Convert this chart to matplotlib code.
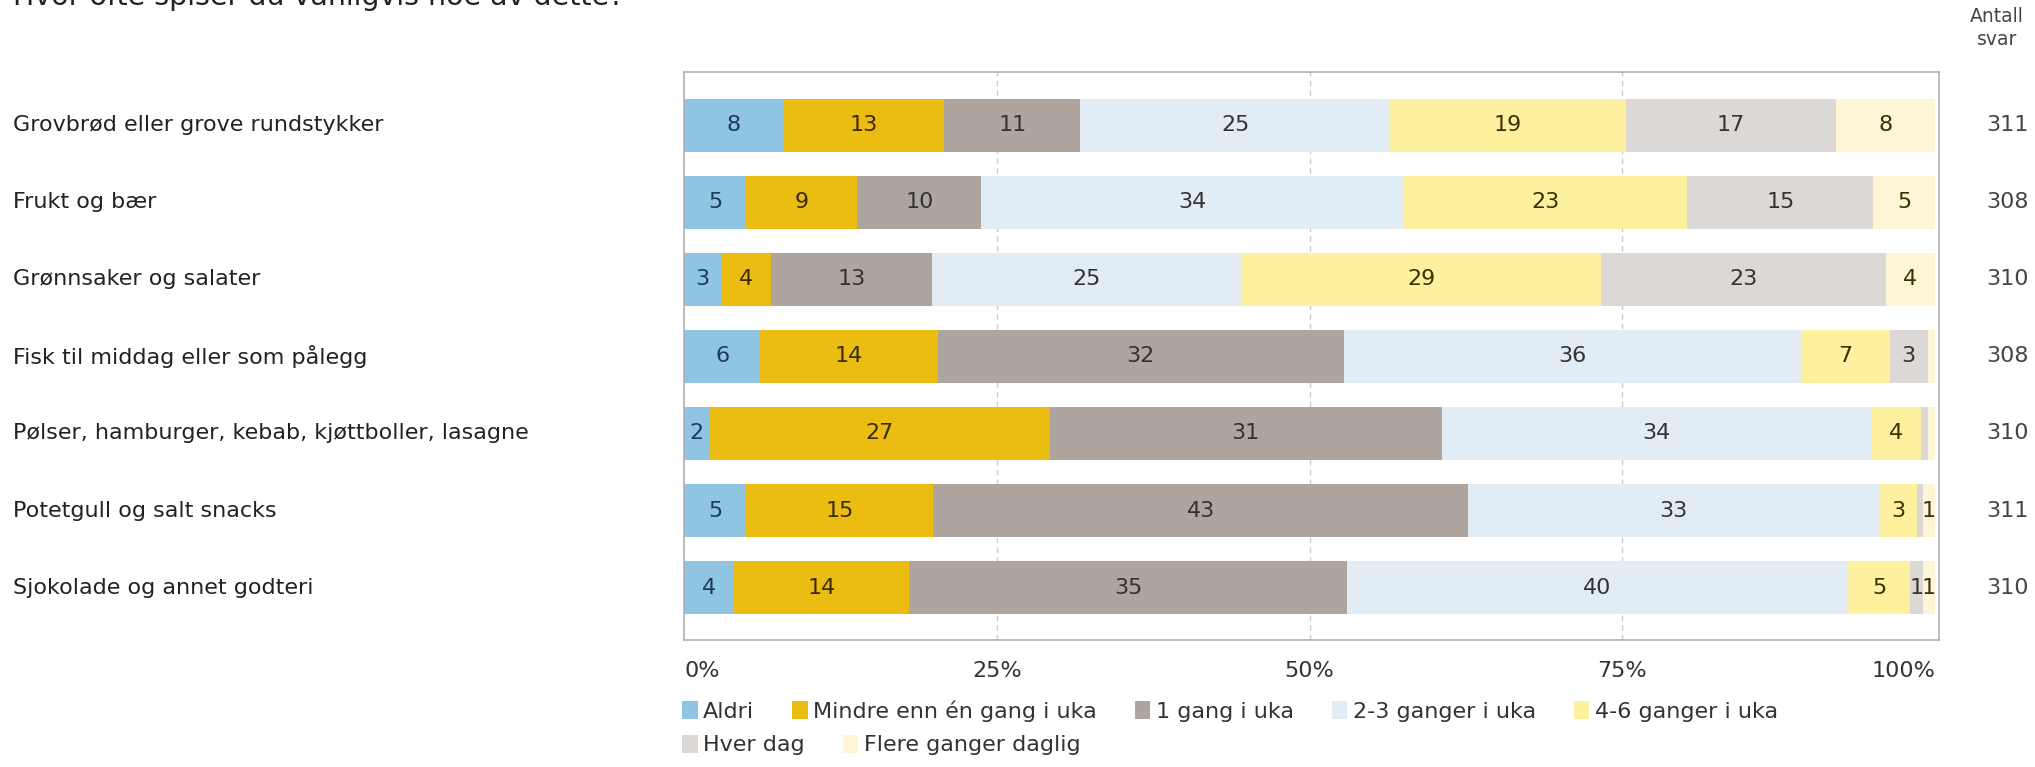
import numpy as np
import matplotlib.pyplot as plt
import matplotlib.transforms as mtransforms
from matplotlib.patches import Patch

plt.rcParams['font.family'] = ['DejaVu Sans']

title = "Hvor ofte spiser du vanligvis noe av dette?"
categories = ["Grovbrød eller grove rundstykker", "Frukt og bær", "Grønnsaker og salater",
              "Fisk til middag eller som pålegg", "Pølser, hamburger, kebab, kjøttboller, lasagne",
              "Potetgull og salt snacks", "Sjokolade og annet godteri"]
series_names = ["Aldri", "Mindre enn én gang i uka", "1 gang i uka", "2-3 ganger i uka",
                "4-6 ganger i uka", "Hver dag", "Flere ganger daglig"]

# percent per category (small slivers are unlabeled in the original)
aldri = [8, 5, 3, 6, 2, 5, 4]
mindre = [13, 9, 4, 14, 27, 15, 14]
en_gang = [11, 10, 13, 32, 31, 43, 35]
to_tre = [25, 34, 25, 36, 34, 33, 40]
fire_seks = [19, 23, 29, 7, 4, 3, 5]
hver_dag = [17, 15, 23, 3, 0.5, 0.5, 1]
flere = [8, 5, 4, 0.6, 0.6, 1, 1]
antall = [311, 308, 310, 308, 310, 311, 310]
tick_vals = [0, 25, 50, 75, 100]

colors = ["#8fc4e3", "#ebbc12", "#aea59e", "#e2ecf4", "#fdf09e", "#dcd8d6", "#fef5d6"]
txt_colors = ["#1d3a5c", "#3a2a00", "#333333", "#333333", "#3a3000", "#333333", "#3a3000"]

fs = 16

data = np.array([aldri, mindre, en_gang, to_tre, fire_seks, hver_dag, flere], dtype=float)
pct = data / data.sum(axis=0) * 100

fig = plt.figure(figsize=(20.35, 7.67), dpi=100)
ax = fig.add_axes([684 / 2035, 127 / 767, 1255 / 2035, 568 / 767])

y = np.arange(len(categories))
left = np.zeros(len(categories))
for i, name in enumerate(series_names):
    ax.barh(y, pct[i], left=left, height=0.69, color=colors[i], label=name, zorder=2)
    for j in range(len(categories)):
        if data[i, j] >= 1:
            ax.text(left[j] + pct[i, j] / 2, y[j], str(int(round(data[i, j]))),
                    ha="center", va="center", fontsize=fs, color=txt_colors[i], zorder=3)
    left += pct[i]

ax.set_xlim(0, 100.3)
ax.set_ylim(6.68, -0.69)
for v in tick_vals[1:-1]:
    ax.axvline(v, color="#cccccc", lw=1, ls=(0, (4, 3)), zorder=1)
ax.set_xticks([])
ax.set_yticks([])
for s in ax.spines.values():
    s.set_color("#b0b0b0")
    s.set_linewidth(1.2)

# x tick labels under the box
xtr = mtransforms.blended_transform_factory(ax.transData, fig.transFigure)
for v in tick_vals:
    ha = "left" if v == 0 else ("right" if v == 100 else "center")
    ax.text(v, 1 - 671 / 767, f"{v}%", transform=xtr, ha=ha, va="center",
            fontsize=fs, color="#333333")

# category labels and counts
tr = mtransforms.blended_transform_factory(fig.transFigure, ax.transData)
for j, cat in enumerate(categories):
    fig.text(13 / 2035, y[j], cat, transform=tr, ha="left", va="center", fontsize=fs, color="#222222")
    fig.text(2029 / 2035, y[j], str(antall[j]), transform=tr, ha="right", va="center",
             fontsize=fs, color="#444444")

fig.text(1997 / 2035, 1 - 28 / 767, "Antall\nsvar", ha="center", va="center", fontsize=13.5,
         color="#444444", linespacing=1.25)
fig.text(13 / 2035, 1 - 5 / 767, title, ha="left", va="baseline", fontsize=20.5, color="#222222")

handles = [Patch(facecolor=c, edgecolor="none") for c in colors]
leg_kw = dict(loc="center left", frameon=False, fontsize=fs, handlelength=0.7, handleheight=0.9,
              handletextpad=0.25, columnspacing=1.7, borderaxespad=0, borderpad=0)
leg1 = fig.legend(handles[:5], series_names[:5], bbox_to_anchor=(682 / 2035, 1 - 711 / 767),
                  ncol=5, **leg_kw)
leg2 = fig.legend(handles[5:], series_names[5:], bbox_to_anchor=(682 / 2035, 1 - 745 / 767),
                  ncol=2, **leg_kw)
for leg in (leg1, leg2):
    for t in leg.get_texts():
        t.set_color("#333333")

fig.savefig("out.png", dpi=100)
